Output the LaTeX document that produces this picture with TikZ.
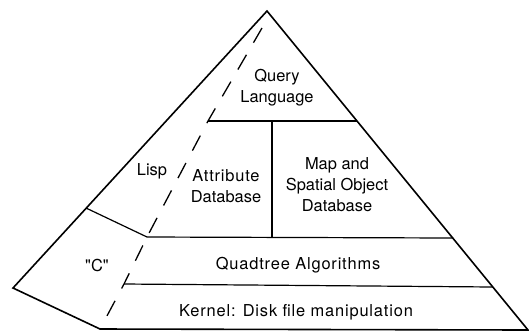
\documentclass[tikz,border=0pt]{standalone}
\usepackage{fontspec}
\setmainfont{TeX Gyre Heros}
\newfontfamily\widefont[LetterSpace=5]{TeX Gyre Heros}

\begin{document}
\begin{tikzpicture}[x=1bp,y=-1bp,
  lbl/.style={font=\fontsize{16.5}{21}\selectfont,align=center,inner sep=0pt},
  border/.style={line width=1.6bp,line join=miter},
  layer/.style={line width=1.2bp},
  split/.style={line width=1.3bp,dash pattern=on 17bp off 14bp}
  ]
  \useasboundingbox (0,0) rectangle (529,332);
  % outline of the pyramid
  \coordinate (apex) at (267,11);
  \coordinate (left) at (13,288);
  \coordinate (foot) at (100,329);
  \coordinate (right) at (528,330);
  \draw[border] (apex) -- (left) -- (foot) -- (right) -- cycle;
  % layer boundaries
  \coordinate (q1) at (208,121);
  \coordinate (q2) at (357,121);
  \coordinate (a1) at (147,237);
  \coordinate (a2) at (453,238);
  \coordinate (k1) at (124,284);
  \coordinate (k2) at (493,287);
  \coordinate (l1) at (86,208);
  \coordinate (v1) at (272,121);
  \coordinate (v2) at (272,237);
  \coordinate (top) at (262,28);
  \draw[layer] (q1) -- (q2);
  \draw[layer] (a1) -- (a2);
  \draw[layer] (k1) -- (k2);
  \draw[layer] (v1) -- (v2);
  \draw[layer] (l1) -- (a1);
  \draw[split] (top) -- (q1) -- (a1) -- (k1) -- (foot);
  % labels
  \node[lbl] (query) at (277,88) {Query\\Language};
  \node[lbl] (lisp) at (152,171) {Lisp};
  \node[lbl] (attr) at (226,186) {{\widefont Attribute}\\Database};
  \node[lbl] (map) at (337,185) {Map and\\Spatial Object\\Database};
  \node[lbl] (clang) at (97,265) {\textquotedbl C\textquotedbl};
  \node[lbl] (quad) at (298,265) {\widefont Quadtree Algorithms};
  \node[lbl] (kernel) at (296,312) {\widefont Kernel: Disk file manipulation};
\end{tikzpicture}
\end{document}
